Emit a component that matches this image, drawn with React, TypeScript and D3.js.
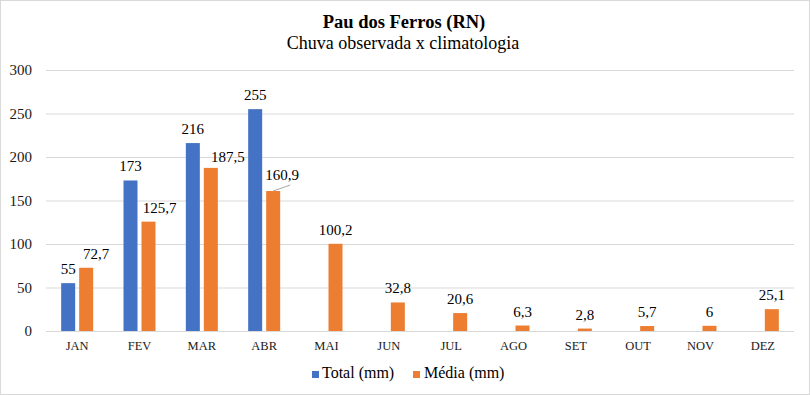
import React, { useEffect, useRef } from "react";
import * as d3 from "d3";

const months = ["JAN", "FEV", "MAR", "ABR", "MAI", "JUN", "JUL", "AGO", "SET", "OUT", "NOV", "DEZ"];
const total = [55, 173, 216, 255, null, null, null, null, null, null, null, null];
const media = [72.7, 125.7, 187.5, 160.9, 100.2, 32.8, 20.6, 6.3, 2.8, 5.7, 6, 25.1];
const yTicks = [0, 50, 100, 150, 200, 250, 300];

// label nudges Excel applied to avoid overlaps (dx, dy)
const mediaNudge = [[10, 0], [11, 0], [17, 3], [9, -2], [0, 0], [0, 0], [0, 0], [0, 0], [0, 0], [0, 0], [0, 0], [0, 0]];

const fmt = (v: number) => String(v).replace(".", ",");

function App() {
  const ref = useRef<SVGSVGElement>(null);

  useEffect(() => {
    const W = 810, H = 395;
    const svg = d3.select(ref.current).attr("width", W).attr("height", H)
      .style("font-family", "'Times New Roman', 'Liberation Serif', 'DejaVu Serif', serif");
    svg.selectAll("*").remove();

    svg.append("rect").attr("x", 0.5).attr("y", 0.5).attr("width", W - 1).attr("height", H - 1)
      .attr("fill", "white").attr("stroke", "#d9d9d9");

    svg.append("text").attr("x", 404).attr("y", 28).attr("text-anchor", "middle")
      .attr("font-size", 18.5).attr("font-weight", "bold").text("Pau dos Ferros (RN)");
    svg.append("text").attr("x", 403).attr("y", 49).attr("text-anchor", "middle")
      .attr("font-size", 18).text("Chuva observada x climatologia");

    const x = d3.scaleBand().domain(months).range([46, 794]);
    const y = d3.scaleLinear().domain([0, 300]).range([331, 70]);
    const bw = 14, gap = 4;

    const g = svg.append("g");
    g.selectAll("line.grid").data(yTicks).join("line")
      .attr("x1", 46).attr("x2", 794)
      .attr("y1", d => y(d) + 0.5).attr("y2", d => y(d) + 0.5)
      .attr("stroke", "#d9d9d9");

    g.selectAll("text.yt").data(yTicks).join("text")
      .attr("x", 32).attr("y", d => y(d) + 5).attr("text-anchor", "end")
      .attr("font-size", 15).attr("fill", "#1a1a1a").text(d => d);

    g.selectAll("text.xt").data(months).join("text")
      .attr("x", d => x(d)! + x.bandwidth() / 2).attr("y", 350).attr("text-anchor", "middle")
      .attr("font-size", 12.5).attr("fill", "#1a1a1a").text(d => d);

    const cx = (i: number) => x(months[i])! + x.bandwidth() / 2;

    const tot = total.map((v, i) => ({ v, i })).filter(d => d.v != null) as { v: number; i: number }[];
    g.selectAll("rect.tot").data(tot).join("rect")
      .attr("x", d => cx(d.i) - gap / 2 - bw).attr("width", bw)
      .attr("y", d => y(d.v)).attr("height", d => y(0) - y(d.v)).attr("fill", "#4472C4");
    g.selectAll("text.tl").data(tot).join("text")
      .attr("x", d => cx(d.i) - gap / 2 - bw / 2).attr("y", d => y(d.v) - 9).attr("text-anchor", "middle")
      .attr("font-size", 15).text(d => fmt(d.v));

    const med = media.map((v, i) => ({ v, i }));
    g.selectAll("rect.med").data(med).join("rect")
      .attr("x", d => cx(d.i) + gap / 2).attr("width", bw)
      .attr("y", d => y(d.v)).attr("height", d => y(0) - y(d.v)).attr("fill", "#ED7D31");
    g.selectAll("text.ml").data(med).join("text")
      .attr("x", d => cx(d.i) + gap / 2 + bw / 2 + mediaNudge[d.i][0])
      .attr("y", d => y(d.v) - 9 + mediaNudge[d.i][1]).attr("text-anchor", "middle")
      .attr("font-size", 15).text(d => fmt(d.v));

    // leader line for ABR média label
    const li = 3;
    g.append("line")
      .attr("x1", cx(li) + gap / 2 + bw / 2).attr("y1", y(media[li]))
      .attr("x2", cx(li) + gap / 2 + bw / 2 + 17).attr("y2", y(media[li]) - 6)
      .attr("stroke", "#a6a6a6");

    const legend = svg.append("g").attr("font-size", 16);
    legend.append("rect").attr("x", 312).attr("y", 371).attr("width", 7).attr("height", 7).attr("fill", "#4472C4");
    legend.append("text").attr("x", 322).attr("y", 378).text("Total (mm)");
    legend.append("rect").attr("x", 413).attr("y", 371).attr("width", 7).attr("height", 7).attr("fill", "#ED7D31");
    legend.append("text").attr("x", 424).attr("y", 378).text("Média (mm)");
  }, []);

  return (
    <div style={{ position: "absolute", left: 0, top: 0 }}>
      <svg ref={ref} style={{ display: "block" }}></svg>
    </div>
  );
}

export default App;
